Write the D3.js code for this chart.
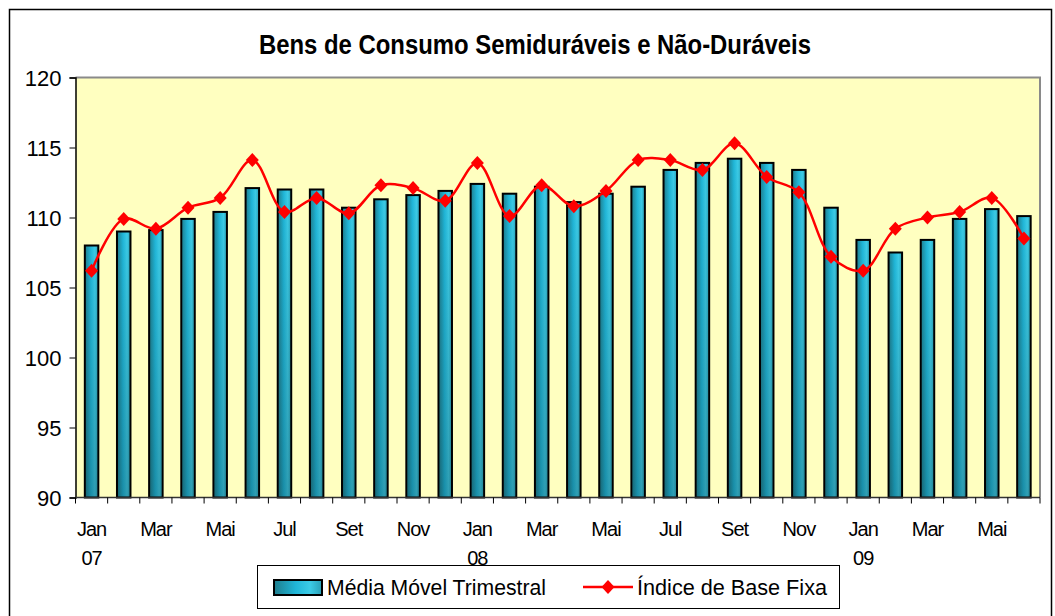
<!DOCTYPE html>
<html>
<head>
<meta charset="utf-8">
<style>
  body { margin: 0; background: #fff; }
  text { font-family: Arial, "Liberation Sans", sans-serif; fill: #000; }
</style>
</head>
<body>
<svg width="1055" height="616"></svg>
<script src="https://cdnjs.cloudflare.com/ajax/libs/d3/7.8.5/d3.min.js"></script>
<script>

// meses (jan/07 a jun/09)
var meses = ["Jan","Fev","Mar","Abr","Mai","Jun","Jul","Ago","Set","Out","Nov","Dez",
             "Jan","Fev","Mar","Abr","Mai","Jun","Jul","Ago","Set","Out","Nov","Dez",
             "Jan","Fev","Mar","Abr","Mai","Jun"];
var anos = {0: "07", 12: "08", 24: "09"};

var mediaMovel = [108.0, 109.0, 109.1, 109.9, 110.4, 112.1, 112.0, 112.0, 110.7, 111.3,
                  111.6, 111.9, 112.4, 111.7, 112.2, 111.1, 111.7, 112.2, 113.4, 113.9,
                  114.2, 113.9, 113.4, 110.7, 108.4, 107.5, 108.4, 109.9, 110.6, 110.1];
var indiceBase = [106.2, 109.9, 109.2, 110.7, 111.4, 114.1, 110.4, 111.4, 110.3, 112.3,
                  112.1, 111.2, 113.9, 110.1, 112.3, 110.8, 111.9, 114.1, 114.1, 113.4,
                  115.3, 112.9, 111.8, 107.2, 106.2, 109.2, 110.0, 110.4, 111.4, 108.5];
var yTicks = [90, 95, 100, 105, 110, 115, 120];

var svg = d3.select("svg"),
    margin = {top: 77.5, right: 15, bottom: 118.5, left: 75.5},
    width = 1040 - margin.left,
    height = 497.5 - margin.top;

// moldura do gráfico
svg.append("rect")
  .attr("x", 9.5).attr("y", 9.5)
  .attr("width", 1042).attr("height", 620)
  .attr("fill", "#fff").attr("stroke", "#000").attr("stroke-width", 1.5);

var defs = svg.append("defs");
var grad = defs.append("linearGradient").attr("id", "barra")
  .attr("x1", "0%").attr("x2", "100%").attr("y1", "0%").attr("y2", "0%");
grad.append("stop").attr("offset", "0%").attr("stop-color", "#1f7d8c");
grad.append("stop").attr("offset", "45%").attr("stop-color", "#20b6d8");
grad.append("stop").attr("offset", "75%").attr("stop-color", "#3ccbe6");
grad.append("stop").attr("offset", "100%").attr("stop-color", "#2a9fb5");

var gradV = defs.append("linearGradient").attr("id", "sombra")
  .attr("x1", "0%").attr("x2", "0%").attr("y1", "0%").attr("y2", "100%");
gradV.append("stop").attr("offset", "0%").attr("stop-color", "#000").attr("stop-opacity", 0);
gradV.append("stop").attr("offset", "100%").attr("stop-color", "#000").attr("stop-opacity", 0.22);

// titulo
svg.append("text")
  .attr("x", 535).attr("y", 54)
  .attr("text-anchor", "middle")
  .attr("textLength", 552).attr("lengthAdjust", "spacingAndGlyphs")
  .style("font-size", "27px").style("font-weight", "bold")
  .text("Bens de Consumo Semiduráveis e Não-Duráveis");

var g = svg.append("g").attr("transform", "translate(" + margin.left + "," + margin.top + ")");

var x = d3.scaleBand().domain(d3.range(meses.length)).range([0, width]).padding(0);
var y = d3.scaleLinear().domain([90, 120]).range([height, 0]);

// area de plotagem
g.append("rect")
  .attr("width", width).attr("height", height)
  .attr("fill", "#FFFFC0");
g.append("path")
  .attr("d", "M0,0H" + width + "V" + height)
  .attr("fill", "none").attr("stroke", "#8a8a8a").attr("stroke-width", 2);

// barras
var bw = x.bandwidth() * 0.42;
var barras = g.selectAll(".bar").data(mediaMovel).enter();
barras.append("rect")
  .attr("class", "bar")
  .attr("x", function (d, i) { return x(i) + (x.bandwidth() - bw) / 2; })
  .attr("y", function (d) { return y(d); })
  .attr("width", bw)
  .attr("height", function (d) { return height - y(d); })
  .attr("fill", "url(#barra)")
  .attr("stroke", "#000").attr("stroke-width", 2);
barras.append("rect")
  .attr("x", function (d, i) { return x(i) + (x.bandwidth() - bw) / 2 + 1; })
  .attr("y", function (d) { return y(d) + 1; })
  .attr("width", bw - 2)
  .attr("height", function (d) { return height - y(d) - 2; })
  .attr("fill", "url(#sombra)");

// eixo y
var eixoY = g.append("g")
  .call(d3.axisLeft(y).tickValues(yTicks).tickSize(6).tickPadding(8));
eixoY.select(".domain").attr("stroke", "#000").attr("stroke-width", 1.5);
eixoY.selectAll("line").attr("stroke", "#000");
eixoY.selectAll("text").style("font-size", "22px").attr("dy", "0.36em");

// eixo x
var eixoX = g.append("g").attr("transform", "translate(0," + height + ")");
eixoX.append("line").attr("x1", 0).attr("x2", width)
  .attr("stroke", "#333").attr("stroke-width", 1.5);
eixoX.selectAll(".tk").data(d3.range(meses.length + 1)).enter().append("line")
  .attr("x1", function (i) { return i < meses.length ? x(i) : width; })
  .attr("x2", function (i) { return i < meses.length ? x(i) : width; })
  .attr("y1", 0).attr("y2", 6)
  .attr("stroke", "#000");
eixoX.selectAll(".mes").data(d3.range(0, meses.length, 2)).enter().append("text")
  .attr("x", function (i) { return x(i) + x.bandwidth() / 2; })
  .attr("y", 38)
  .attr("text-anchor", "middle")
  .style("font-size", "20px").style("letter-spacing", "-1px")
  .text(function (i) { return meses[i]; });
eixoX.selectAll(".ano").data(Object.keys(anos)).enter().append("text")
  .attr("x", function (i) { return x(+i) + x.bandwidth() / 2; })
  .attr("y", 67)
  .attr("text-anchor", "middle")
  .style("font-size", "20px").style("letter-spacing", "-1px")
  .text(function (i) { return anos[i]; });

// linha indice
var linha = d3.line()
  .x(function (d, i) { return x(i) + x.bandwidth() / 2; })
  .y(function (d) { return y(d); })
  .curve(d3.curveCatmullRom.alpha(0.5));
g.append("path").datum(indiceBase)
  .attr("d", linha)
  .attr("fill", "none").attr("stroke", "#FF0000").attr("stroke-width", 2.5);

var losango = "M0,-7L6.5,0L0,7L-6.5,0Z";
g.selectAll(".ponto").data(indiceBase).enter().append("path")
  .attr("d", losango)
  .attr("transform", function (d, i) { return "translate(" + (x(i) + x.bandwidth() / 2) + "," + y(d) + ")"; })
  .attr("fill", "#FF0000");

// legenda
var leg = svg.append("g");
leg.append("rect").attr("x", 257.5).attr("y", 565.5).attr("width", 582).attr("height", 43)
  .attr("fill", "#fff").attr("stroke", "#000").attr("stroke-width", 1);
leg.append("rect").attr("x", 274).attr("y", 580).attr("width", 48).attr("height", 15)
  .attr("fill", "url(#barra)").attr("stroke", "#000").attr("stroke-width", 2);
leg.append("text").attr("x", 327).attr("y", 595)
  .attr("textLength", 219).attr("lengthAdjust", "spacingAndGlyphs")
  .style("font-size", "22px").text("Média Móvel Trimestral");
leg.append("line").attr("x1", 583).attr("x2", 633).attr("y1", 587).attr("y2", 587)
  .attr("stroke", "#FF0000").attr("stroke-width", 2.5);
leg.append("path").attr("d", losango).attr("transform", "translate(608,587)").attr("fill", "#FF0000");
leg.append("text").attr("x", 637).attr("y", 595)
  .attr("textLength", 190).attr("lengthAdjust", "spacingAndGlyphs")
  .style("font-size", "22px").text("Índice de Base Fixa");

</script>
</body>
</html>
